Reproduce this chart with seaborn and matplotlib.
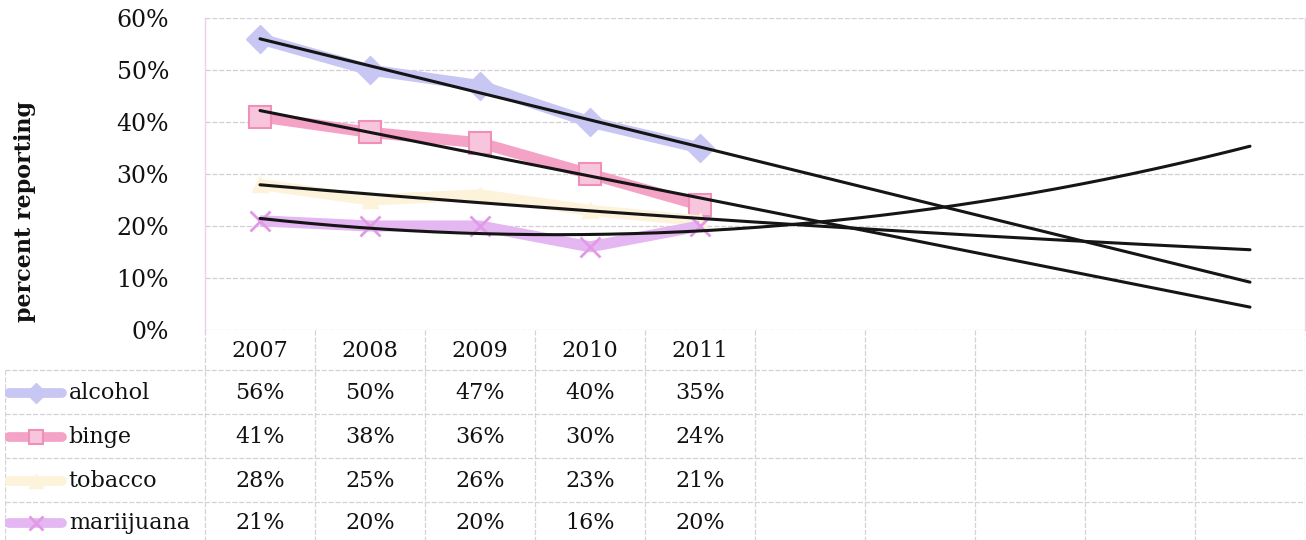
import numpy as np
import pandas as pd
import matplotlib
matplotlib.use("Agg")
import matplotlib.pyplot as plt
import seaborn as sns

# datos
years = ["2007", "2008", "2009", "2010", "2011"]
n_slots = 10
series = ["alcohol", "binge", "tobacco", "mariijuana"]
alcohol = [56, 50, 47, 40, 35]
binge = [41, 38, 36, 30, 24]
tobacco = [28, 25, 26, 23, 21]
marijuana = [21, 20, 20, 16, 20]
trend_type = ["linear", "linear", "exp", "poly2"]

colors = ["#c8c6f2", "#f4a2c6", "#fdf2da", "#e4b6f2"]
markers = ["D", "s", "^", "x"]
msizes = [14, 16, 12, 14]

values = [alcohol, binge, tobacco, marijuana]
rows = []
for name, vals in zip(series, values):
    for i, v in enumerate(vals):
        rows.append({"serie": name, "slot": i + 1, "pct": v})
df = pd.DataFrame(rows)

sns.set_theme(style="white")
plt.rcParams["font.family"] = ["DejaVu Serif"]


def marker_style(mk, col):
    if mk == "s":
        return dict(markeredgecolor="#f090b8", markerfacecolor="#f8c6dc", markeredgewidth=1.5)
    if mk == "x":
        return dict(markeredgecolor="#e29ae6", markerfacecolor="#e29ae6", markeredgewidth=2)
    return dict(markeredgecolor=col, markerfacecolor=col, markeredgewidth=1)


fig = plt.figure(figsize=(13.06, 5.4), dpi=100)
W, H = 1306, 540
ax = fig.add_axes([205 / W, 1 - 330 / H, 1100 / W, 312 / H])
tab = fig.add_axes([5 / W, 0, 1300 / W, 210 / H])

# series lines
for name, col, mk, ms in zip(series, colors, markers, msizes):
    sub = df[df["serie"] == name]
    sns.lineplot(data=sub, x="slot", y="pct", ax=ax, color=col, lw=8,
                 marker=mk, markersize=ms, solid_capstyle="butt",
                 legend=False, zorder=3, **marker_style(mk, col))

# trend lines
xs = np.arange(1, 6)
xf = np.linspace(1, n_slots, 200)
for vals, kind in zip(values, trend_type):
    y = np.array(vals, dtype=float)
    if kind == "linear":
        yf = np.polyval(np.polyfit(xs, y, 1), xf)
    elif kind == "exp":
        yf = np.exp(np.polyval(np.polyfit(xs, np.log(y), 1), xf))
    else:
        yf = np.polyval(np.polyfit(xs, y, 2), xf)
    sns.lineplot(x=xf, y=yf, ax=ax, color="#151515", lw=2.2, legend=False, zorder=4)

ax.set_xlim(0.5, n_slots + 0.5)
ax.set_ylim(0, 60)
ax.set_yticks(range(0, 61, 10))
ax.set_yticklabels([f"{t}%" for t in range(0, 61, 10)], fontsize=17, color="#111111")
ax.set_xticks([])
ax.set_xlabel("")
ax.set_ylabel("percent reporting", fontsize=16, fontweight="bold", color="#111111")
ax.yaxis.set_label_coords(-0.154, 0.38)
ax.tick_params(axis="y", length=0, pad=26)
for t in range(0, 61, 10):
    ax.axhline(t, color="#d4ced4", lw=0.9, ls=(0, (4, 1.5)), zorder=1)
for s in ["left", "right"]:
    ax.spines[s].set_color("#ecd0ec")
    ax.spines[s].set_linewidth(1)
ax.spines["top"].set_visible(False)
ax.spines["bottom"].set_visible(False)

# data table
x0 = 0.5 - 200 / 110
tab.set_xlim(x0, n_slots + 0.5)
tab.set_ylim(540, 330)
tab.axis("off")
gc = "#d8d0d8"
row_lines = [370, 414, 458, 502]
for yl in row_lines:
    tab.plot([x0, n_slots + 0.5], [yl, yl], color=gc, lw=0.9, ls=(0, (4, 1.5)))
tab.plot([x0, x0], [370, 540], color=gc, lw=0.9, ls=(0, (4, 1.5)))
for k in range(n_slots + 1):
    tab.plot([k + 0.5, k + 0.5], [330, 540], color=gc, lw=0.9, ls=(0, (4, 1.5)))

for i, yr in enumerate(years):
    tab.text(i + 1, 351, yr, ha="center", va="center", fontsize=16, color="#111111")

row_centers = [393, 437, 481, 523]
for r, (name, vals, col, mk) in enumerate(zip(series, values, colors, markers)):
    yc = row_centers[r]
    lx = np.array([x0 + 0.04, x0 + 0.52])
    tab.plot(lx, [yc, yc], color=col, lw=7, solid_capstyle="round")
    tab.plot([lx.mean()], [yc], marker=mk, color=col, markersize=10,
             **marker_style(mk, col))
    tab.text(x0 + 0.58, yc, name, ha="left", va="center", fontsize=16, color="#111111")
    for i, v in enumerate(vals):
        tab.text(i + 1, yc, f"{v}%", ha="center", va="center", fontsize=16, color="#111111")

fig.savefig("out.png", dpi=100)
